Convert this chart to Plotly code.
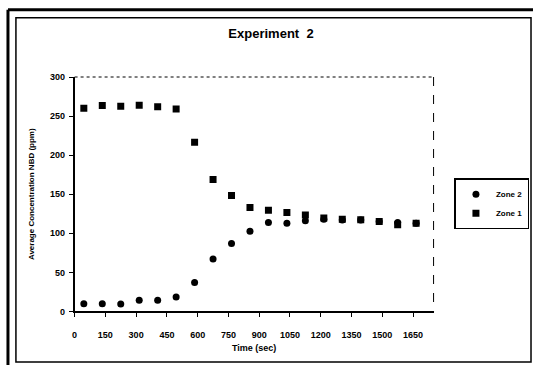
import plotly.graph_objects as go

time_sec = [45, 135, 225, 315, 405, 495, 585, 675, 765, 855, 945, 1035, 1125, 1215, 1305, 1395, 1485, 1575, 1665]
zone2 = [10, 10, 9.5, 14.5, 14.5, 18.5, 37, 67, 87, 102.5, 114, 113, 116, 118, 117, 117, 115, 114, 113]
zone1 = [260, 263.5, 262.5, 264, 262, 259, 216.5, 169, 148.5, 133, 129.5, 126.5, 123.5, 119.5, 118, 117.5, 115, 111, 113]
x_ticks = [0, 150, 300, 450, 600, 750, 900, 1050, 1200, 1350, 1500, 1650]
y_ticks = [0, 50, 100, 150, 200, 250, 300]

W, H = 533, 370
FONT = "Liberation Sans"

fig = go.Figure()
fig.add_trace(go.Scatter(x=time_sec, y=zone2, mode="markers", name="Zone 2",
                         marker=dict(symbol="circle", size=7, color="black")))
fig.add_trace(go.Scatter(x=time_sec, y=zone1, mode="markers", name="Zone 1",
                         marker=dict(symbol="square", size=7, color="black")))

def px(x):
    return x / W

def py(y):
    return 1 - y / H

shapes = [
    # outer frame lines
    dict(type="line", xref="paper", yref="paper", x0=px(5), x1=px(5), y0=py(5), y1=py(370),
         line=dict(color="black", width=3)),
    dict(type="line", xref="paper", yref="paper", x0=px(5), x1=px(533), y0=py(5), y1=py(5),
         line=dict(color="black", width=3)),
    dict(type="rect", xref="paper", yref="paper", x0=px(13), x1=px(531), y0=py(13), y1=py(367),
         line=dict(color="black", width=1.5)),
    # plot area border (top/right dotted)
    dict(type="line", xref="paper", yref="paper", x0=px(72), x1=px(433), y0=py(74), y1=py(74),
         line=dict(color="black", width=1, dash="dot")),
    dict(type="line", xref="paper", yref="paper", x0=px(433), x1=px(433), y0=py(74), y1=py(315),
         line=dict(color="black", width=1, dash="dash")),
]

fig.update_layout(
    width=W, height=H,
    margin=dict(l=0, r=0, t=0, b=0),
    paper_bgcolor="white", plot_bgcolor="white",
    font=dict(family=FONT, color="black", size=9, weight="bold"),
    title=dict(text="Experiment  2", x=px(271), y=py(33), xanchor="center", yanchor="middle",
               font=dict(family=FONT, size=13, weight="bold", color="black")),
    xaxis=dict(domain=[px(72), px(433)], range=[0, 1750], tickvals=x_ticks,
               showgrid=False, zeroline=False, showline=True, linecolor="black", linewidth=1.5,
               ticks="outside", ticklen=4, tickcolor="black", ticklabelstandoff=10,
               tickfont=dict(family=FONT, size=9, weight="bold"),
               title=dict(text="Time (sec)", standoff=6, font=dict(family=FONT, size=9, weight="bold"))),
    yaxis=dict(domain=[py(315), py(74)], range=[0, 300], tickvals=y_ticks,
               showgrid=False, zeroline=False, showline=True, linecolor="black", linewidth=1.5,
               ticks="outside", ticklen=4, tickcolor="black", ticklabelstandoff=2,
               tickfont=dict(family=FONT, size=9, weight="bold"),
               title=dict(text="Average Concentration NBD (ppm)", standoff=14,
                          font=dict(family=FONT, size=8, weight="bold"))),
    legend=dict(x=px(454), y=py(178), xanchor="left", yanchor="top",
                bordercolor="black", borderwidth=1.5, bgcolor="white",
                font=dict(family=FONT, size=8, weight="bold"), tracegroupgap=0,
                itemwidth=30),
    showlegend=True,
    shapes=shapes,
)

fig.write_html("out.html")
